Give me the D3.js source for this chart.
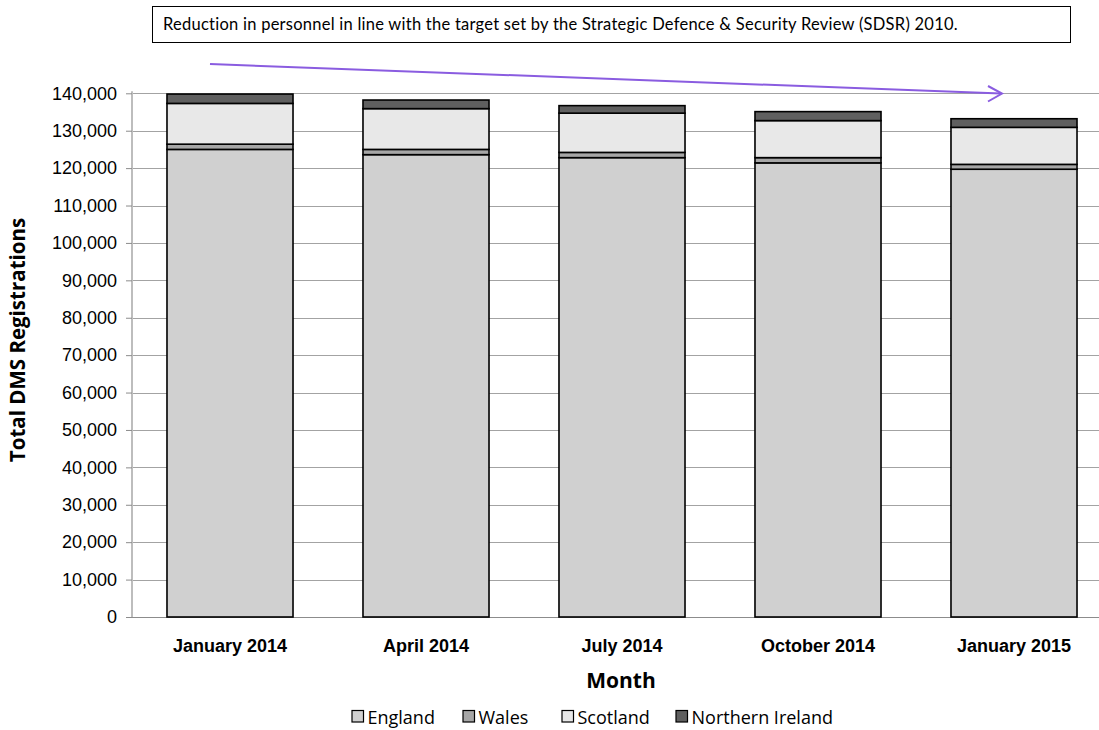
<!DOCTYPE html>
<html>
<head>
<meta charset="utf-8">
<script src="https://cdn.jsdelivr.net/npm/d3@7"></script>
<style>
body { margin: 0; background: #fff; }
svg { display: block; overflow: hidden; }
</style>
</head>
<body>
<div class="chart"></div>
<script>
// DATA ----------------------------------------
const months = ['January 2014', 'April 2014', 'July 2014', 'October 2014', 'January 2015'];
const england = [125000, 123600, 122800, 121400, 119700];
const wales = [1400, 1400, 1400, 1400, 1300];
const scotland = [10900, 10900, 10500, 9900, 9900];
const northernIreland = [2500, 2300, 2000, 2400, 2300];
const yTicks = [0, 10000, 20000, 30000, 40000, 50000, 60000, 70000, 80000, 90000, 100000, 110000, 120000, 130000, 140000];

const seriesNames = ['England', 'Wales', 'Scotland', 'Northern Ireland'];
const colors = ['#d0d0d0', '#a6a6a6', '#e8e8e8', '#5f5f5f'];

const W = 1099, H = 730;
const plotLeft = 132, plotRight = 1112, plotTop = 93.3, plotBottom = 617;

const table = months.map((m, i) => ({
	month: m,
	'England': england[i],
	'Wales': wales[i],
	'Scotland': scotland[i],
	'Northern Ireland': northernIreland[i]
}));

const stacked = d3.stack().keys(seriesNames)(table);

// CHART INIT ----------------------------------------
const svg = d3.select('.chart').append('svg')
	.attr('width', W)
	.attr('height', H);

const xScale = d3.scaleBand()
	.domain(months)
	.range([plotLeft, plotRight])
	.paddingInner(0.357)
	.paddingOuter(0.1785);

const yScale = d3.scaleLinear()
	.domain([0, 140000])
	.range([plotBottom, plotTop]);

// gridlines
svg.append('g')
	.selectAll('line')
	.data(yTicks)
	.join('line')
	.attr('x1', plotLeft)
	.attr('x2', W)
	.attr('y1', d => Math.round(yScale(d)) + 0.5)
	.attr('y2', d => Math.round(yScale(d)) + 0.5)
	.attr('stroke', d => d === 0 ? '#8c8c8c' : '#a3a3a3')
	.attr('stroke-width', 1);

// y axis
const yAxis = d3.axisLeft(yScale)
	.tickValues(yTicks)
	.tickFormat(d3.format(','))
	.tickSize(6)
	.tickPadding(9);

const yg = svg.append('g')
	.attr('transform', `translate(${plotLeft},0)`)
	.call(yAxis);
yg.select('.domain').attr('stroke', '#bdbdbd').attr('stroke-width', 2)
	.attr('d', `M0,${plotTop - 2}V${plotBottom}`);
yg.selectAll('.tick line').attr('stroke', '#8c8c8c');
yg.selectAll('.tick text')
	.attr('font-family', 'Liberation Sans, Arial, sans-serif')
	.attr('font-size', 18)
	.attr('fill', '#000');

// bars
svg.append('g')
	.selectAll('g')
	.data(stacked)
	.join('g')
	.attr('fill', (d, i) => colors[i])
	.selectAll('rect')
	.data(d => d)
	.join('rect')
	.attr('x', d => xScale(d.data.month))
	.attr('width', xScale.bandwidth())
	.attr('y', d => yScale(d[1]))
	.attr('height', d => yScale(d[0]) - yScale(d[1]))
	.attr('stroke', '#000')
	.attr('stroke-width', 1.6);

// x labels
svg.append('g')
	.selectAll('text')
	.data(months)
	.join('text')
	.attr('x', d => xScale(d) + xScale.bandwidth() / 2)
	.attr('y', 652)
	.attr('text-anchor', 'middle')
	.attr('font-family', 'Liberation Sans, Arial, sans-serif')
	.attr('font-weight', 'bold')
	.attr('font-size', 18)
	.text(d => d);

// axis titles
svg.append('text')
	.attr('x', 621)
	.attr('y', 688)
	.attr('text-anchor', 'middle')
	.attr('font-family', 'Open Sans, sans-serif')
	.attr('font-weight', 'bold')
	.attr('font-size', 21)
	.text('Month');

svg.append('text')
	.attr('transform', 'translate(25,340) rotate(-90)')
	.attr('text-anchor', 'middle')
	.attr('font-family', 'Open Sans, sans-serif')
	.attr('font-weight', 'bold')
	.attr('font-size', 20.5)
	.text('Total DMS Registrations');

// legend
const legendX = [352, 463, 562, 676];
const lg = svg.append('g')
	.selectAll('g')
	.data(seriesNames)
	.join('g')
	.attr('transform', (d, i) => `translate(${legendX[i]},710.5)`);
lg.append('rect')
	.attr('width', 11.5)
	.attr('height', 11.5)
	.attr('fill', (d, i) => colors[i])
	.attr('stroke', '#000')
	.attr('stroke-width', 1.2);
lg.append('text')
	.attr('x', 15.5)
	.attr('y', 13)
	.attr('font-family', 'Open Sans, sans-serif')
	.attr('font-size', 18)
	.text(d => d);

// annotation box
svg.append('rect')
	.attr('x', 152.5)
	.attr('y', 6.5)
	.attr('width', 918)
	.attr('height', 36)
	.attr('fill', '#fff')
	.attr('stroke', '#000')
	.attr('stroke-width', 1);

svg.append('text')
	.attr('x', 163)
	.attr('y', 29.5)
	.attr('font-family', 'Lato, sans-serif')
	.attr('font-size', 16.5)
	.attr('letter-spacing', 0.25)
	.text('Reduction in personnel in line with the target set by the Strategic Defence & Security Review (SDSR) 2010.');

// trend arrow
const arrowColor = '#8a5ce0';
svg.append('line')
	.attr('x1', 210).attr('y1', 64)
	.attr('x2', 1001).attr('y2', 93.5)
	.attr('stroke', arrowColor)
	.attr('stroke-width', 2);
svg.append('path')
	.attr('d', 'M988,86 L1002,93.5 L988,101.5')
	.attr('fill', 'none')
	.attr('stroke', arrowColor)
	.attr('stroke-width', 2);
</script>
</body>
</html>
